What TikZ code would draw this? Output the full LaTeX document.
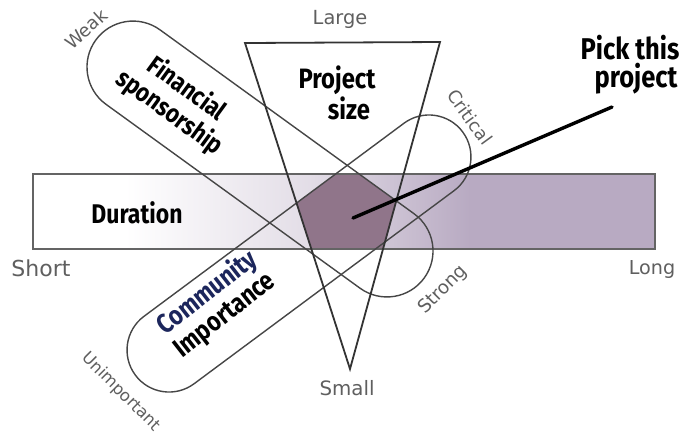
\documentclass[tikz,border=0pt]{standalone}
\usepackage{fontspec}
\setmainfont{Fira Sans}
\newfontfamily\handfont[FakeStretch=0.85]{Fira Sans}
\newfontfamily\notefont{DejaVu Sans}
\usetikzlibrary{shapes.misc}

\definecolor{barlav}{RGB}{184,170,194}
\definecolor{pentmauve}{RGB}{144,117,138}
\definecolor{inkgray}{RGB}{70,70,70}
\definecolor{edgegray}{RGB}{100,100,100}
\definecolor{notegray}{RGB}{95,95,95}
\definecolor{navyink}{RGB}{28,38,92}

\tikzset{
  pill/.style={rounded rectangle, draw=inkgray, line width=0.7pt, inner sep=0pt},
  hand/.style={font=\handfont\bfseries, text=black, inner sep=0pt},
  note/.style={font=\notefont, text=notegray, inner sep=0pt},
  tri/.style={draw=black!80, line width=0.9pt, line join=miter},
  pointer/.style={draw=black, line width=1.7pt, line cap=round}
}

\begin{document}
\begin{tikzpicture}[x=0.5pt, y=-0.5pt]
  \useasboundingbox (0,0) rectangle (694,435);
  \fill[white] (0,0) rectangle (694,435);

  % duration bar: white on the short side, fading to lavender on the long side
  \fill[white] (33,174) rectangle (125,249);
  \shade[left color=white, right color=barlav!40] (125,174) rectangle (310,249);
  \shade[left color=barlav!40, right color=barlav] (310,174) rectangle (470,249);
  \fill[barlav] (470,174) rectangle (655,249);

  % overlap of all four criteria
  \begin{scope}
    \clip (33,174) rectangle (655,249);
    \clip (245,43) -- (440,42) -- (350,369) -- cycle;
    \clip (0,-85.9) -- (694,416.8) -- (694,600) -- (0,600) -- cycle;
    \fill[pentmauve] (0,422.4) -- (694,-91) -- (694,600) -- (0,600) -- cycle;
  \end{scope}

  \draw[draw=edgegray, line width=0.75pt] (33,174) rectangle (655,249);

  % the two capsules
  \node[pill, minimum width=202.8pt, minimum height=46pt, rotate=-35.9] (finpill) at (260,159) {};
  \node[pill, minimum width=203.9pt, minimum height=42pt, rotate=36.6] (compill) at (299,253.5) {};

  % project size wedge
  \coordinate (wedgeL) at (245,43);
  \coordinate (wedgeR) at (440,42);
  \coordinate (wedgeB) at (350,369);
  \draw[tri] (wedgeL) -- (wedgeR) -- (wedgeB) -- cycle;

  % pointer
  \coordinate (pickstart) at (612,107);
  \coordinate (pickend) at (353,218);
  \draw[pointer] (pickstart) -- (pickend);

  % main labels
  \node[hand, font=\handfont\bfseries\fontsize{13.5}{13.5}\selectfont] (duration) at (137,213) {Duration};
  \node[hand, align=left, font=\handfont\bfseries\fontsize{14}{14}\selectfont] (projsize) at (337,93) {Project\\\hspace*{1.05em}size};
  \node[hand, align=center, font=\handfont\bfseries\fontsize{15}{14}\selectfont] (pick) at (630,65) {Pick this\\\hspace*{0.4em}project};
  \node[hand, align=center, rotate=-36, font=\handfont\bfseries\fontsize{13}{14.5}\selectfont] (fin) at (178,101) {Financial\\sponsorship};
  \node[hand, align=center, rotate=38, font=\handfont\bfseries\fontsize{13.5}{14}\selectfont] (com) at (216,304) {\textcolor{navyink}{Community}\\Importance};

  % scale ends
  \node[note, font=\notefont\fontsize{9.7}{10}\selectfont] (large) at (340,19) {Large};
  \node[note, font=\notefont\fontsize{9.9}{10}\selectfont] (small) at (347,388) {Small};
  \node[note, font=\notefont\fontsize{11}{11}\selectfont] (short) at (41,268) {Short};
  \node[note, font=\notefont\fontsize{9.6}{10}\selectfont] (long) at (652,269) {Long};
  \node[note, rotate=42, font=\notefont\fontsize{9}{10}\selectfont] (weak) at (86,29) {Weak};
  \node[note, rotate=45, font=\notefont\fontsize{9.2}{10}\selectfont] (strong) at (443,290) {Strong};
  \node[note, rotate=-54, font=\notefont\fontsize{8.9}{10}\selectfont] (critical) at (470,117) {Critical};
  \node[note, rotate=-45, font=\notefont\fontsize{8.2}{10}\selectfont] (unimp) at (121,392) {Unimportant};
\end{tikzpicture}
\end{document}
